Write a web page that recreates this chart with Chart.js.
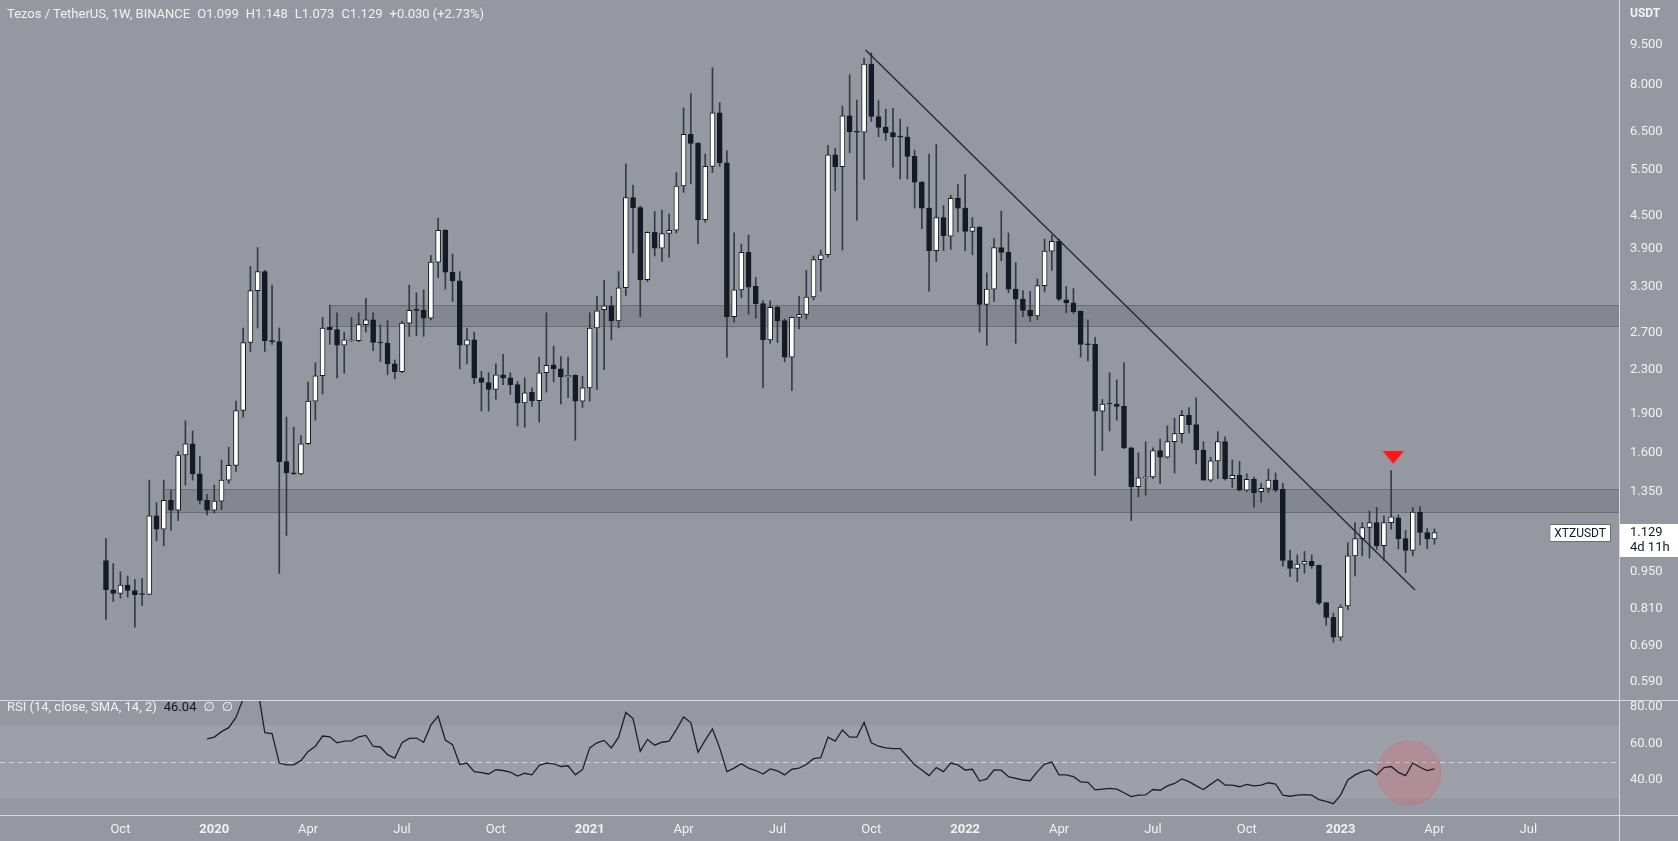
<!DOCTYPE html>
<html>
<head>
<meta charset="utf-8">
<title>XTZUSDT 1W</title>
<script src="https://cdnjs.cloudflare.com/ajax/libs/Chart.js/4.4.1/chart.umd.js"></script>
<style>
  html, body { margin: 0; padding: 0; background: #9598a1; overflow: hidden; }
  #wrap { position: relative; width: 1678px; height: 841px; font-family: Roboto, "DejaVu Sans", sans-serif; color: #f0f2f6; }
  canvas { position: absolute; left: 0; }
  #price { top: 0; }
  #rsi { top: 701px; }
  .txt { position: absolute; font-size: 13px; line-height: 16px; white-space: pre; }
  .txt span { margin-left: 7px; }
  .dark { color: #131722; }
  .vline { position: absolute; left: 1619px; top: 0; width: 1px; height: 841px; background: #d6d9e0; }
  .hline { position: absolute; left: 0; width: 1678px; height: 1px; background: #d6d9e0; }
</style>
</head>
<body>
<div id="wrap">
  <canvas id="price" width="1678" height="700"></canvas>
  <canvas id="rsi" width="1678" height="140"></canvas>
  <div class="hline" style="top:700px"></div>
  <div class="hline" style="top:815px"></div>
  <div class="vline"></div>
  <div class="txt" style="left:7px;top:6px">Tezos / TetherUS, 1W, BINANCE<span>O1.099</span><span>H1.148</span><span>L1.073</span><span>C1.129</span><span>+0.030 (+2.73%)</span></div>
  <div class="txt" style="left:1630px;top:5px;font-size:12px;font-weight:bold">USDT</div>
  <div class="txt" style="left:7px;top:699px">RSI (14, close, SMA, 14, 2)<span class="dark">46.04</span><span>∅</span><span>∅</span></div>
</div>
<script>
// weekly candles, Sep 23 2019 .. Apr 3 2023 (index 0 = first week)
const OPEN = [
  1.00, 0.88, 0.866, 0.898, 0.877, 0.864, 0.862, 1.215, 1.147, 1.30,
  1.245, 1.585, 1.665, 1.46, 1.30, 1.245, 1.296, 1.42, 1.515, 1.925,
  2.59, 3.25, 3.53, 2.61, 2.60, 1.54, 1.465, 1.46, 1.665, 2.005,
  2.24, 2.77, 2.74, 2.56, 2.61, 2.61, 2.80, 2.86, 2.59, 2.585,
  2.36, 2.28, 2.82, 2.99, 2.98, 2.88, 3.68, 4.23, 3.52, 3.39,
  2.56, 2.62, 2.22, 2.175, 2.11, 2.25, 2.22, 2.155, 1.99, 2.085,
  2.01, 2.27, 2.35, 2.31, 2.23, 2.245, 2.005, 2.125, 2.76, 2.99,
  3.04, 2.845, 3.29, 4.88, 4.67, 3.41, 4.19, 3.91, 4.17, 4.23,
  5.13, 6.43, 6.18, 4.43, 5.59, 7.06, 5.68, 2.90, 3.26, 3.84,
  3.31, 3.07, 2.62, 3.02, 2.85, 2.43, 2.89, 2.93, 3.16, 3.72,
  3.80, 5.88, 5.58, 6.97, 6.50, 6.49, 8.74, 6.95, 6.64, 6.48,
  6.36, 6.35, 5.84, 5.22, 4.66, 3.87, 4.47, 4.12, 4.86, 4.66,
  4.21, 4.29, 3.06, 3.27, 3.92, 3.84, 3.27, 3.13, 2.98, 2.91,
  3.32, 3.86, 4.03, 3.12, 3.08, 2.97, 2.575, 2.57, 1.92, 1.985,
  1.98, 1.96, 1.635, 1.38, 1.435, 1.44, 1.615, 1.57, 1.68, 1.74,
  1.885, 1.81, 1.62, 1.42, 1.545, 1.68, 1.43, 1.45, 1.36, 1.425,
  1.35, 1.37, 1.42, 1.365, 1.00, 0.966, 0.984, 0.996, 0.98, 0.832,
  0.78, 0.715, 0.82, 1.02, 1.10, 1.155, 1.18, 1.067, 1.18, 1.205,
  1.10, 1.045, 1.235, 1.13, 1.099
];
const HIGH = [
  1.10, 0.986, 0.952, 0.934, 0.921, 0.924, 1.42, 1.287, 1.42, 1.36,
  1.61, 1.84, 1.76, 1.575, 1.335, 1.39, 1.55, 1.64, 2.005, 2.76,
  3.61, 3.92, 3.55, 3.33, 2.76, 1.87, 1.79, 1.725, 2.18, 2.37,
  2.89, 3.05, 2.95, 2.71, 2.89, 2.95, 3.14, 2.95, 2.80, 2.85,
  2.40, 2.84, 3.33, 3.22, 3.26, 3.79, 4.46, 4.24, 3.81, 3.53,
  2.76, 2.71, 2.285, 2.27, 2.36, 2.46, 2.27, 2.185, 2.22, 2.125,
  2.43, 2.95, 2.55, 2.435, 2.43, 2.25, 2.235, 2.95, 3.17, 3.40,
  3.17, 3.53, 5.65, 5.15, 4.70, 4.20, 4.59, 4.62, 4.54, 5.44,
  7.22, 7.68, 6.20, 5.90, 8.60, 7.38, 5.98, 4.18, 3.98, 4.14,
  3.44, 3.11, 3.11, 3.04, 2.87, 2.895, 3.17, 3.55, 3.78, 3.88,
  6.13, 6.05, 7.28, 8.34, 7.47, 8.96, 9.18, 7.45, 7.18, 7.20,
  6.87, 6.64, 6.00, 5.23, 5.90, 6.15, 4.71, 4.93, 5.17, 5.40,
  4.47, 4.30, 3.51, 4.08, 4.60, 4.18, 3.67, 3.25, 3.24, 3.42,
  4.07, 4.14, 4.07, 3.31, 3.28, 2.97, 2.86, 2.65, 2.02, 2.27,
  2.20, 2.37, 1.64, 1.60, 1.68, 1.635, 1.70, 1.80, 1.86, 1.925,
  1.95, 2.035, 1.68, 1.57, 1.755, 1.715, 1.55, 1.54, 1.46, 1.44,
  1.40, 1.49, 1.465, 1.40, 1.045, 1.025, 1.04, 1.025, 0.98, 0.832,
  0.795, 0.824, 1.08, 1.18, 1.18, 1.24, 1.26, 1.215, 1.48, 1.22,
  1.14, 1.26, 1.265, 1.15, 1.148
];
const LOW = [
  0.773, 0.836, 0.848, 0.852, 0.747, 0.822, 0.862, 1.09, 1.066, 1.14,
  1.19, 1.39, 1.42, 1.28, 1.22, 1.23, 1.25, 1.40, 1.475, 1.87,
  2.49, 2.76, 2.49, 2.57, 0.945, 1.115, 1.455, 1.455, 1.66, 1.845,
  2.07, 2.57, 2.22, 2.265, 2.60, 2.60, 2.71, 2.50, 2.385, 2.25,
  2.21, 2.27, 2.66, 2.67, 2.66, 2.86, 3.44, 3.27, 3.10, 2.31,
  2.36, 2.165, 1.92, 1.92, 2.02, 2.155, 2.065, 1.80, 1.79, 1.96,
  1.83, 2.085, 2.18, 1.98, 2.035, 1.69, 1.95, 2.005, 2.11, 2.30,
  2.62, 2.76, 3.18, 3.83, 2.90, 3.38, 3.78, 3.69, 3.76, 4.18,
  4.99, 5.18, 3.99, 4.38, 5.44, 5.59, 2.43, 2.83, 3.15, 2.93,
  2.88, 2.125, 2.58, 2.59, 2.38, 2.10, 2.75, 2.87, 3.12, 3.24,
  3.76, 5.02, 3.88, 5.93, 4.42, 5.28, 6.80, 6.36, 6.26, 5.57,
  5.29, 5.29, 4.66, 4.26, 3.24, 3.69, 3.87, 3.89, 4.20, 3.87,
  3.80, 2.71, 2.56, 3.10, 3.70, 3.22, 2.58, 2.90, 2.84, 2.86,
  3.23, 3.55, 3.11, 2.95, 2.94, 2.43, 2.39, 1.45, 1.615, 1.76,
  1.845, 1.63, 1.19, 1.32, 1.33, 1.43, 1.40, 1.565, 1.465, 1.67,
  1.745, 1.525, 1.42, 1.41, 1.43, 1.42, 1.375, 1.355, 1.35, 1.26,
  1.29, 1.345, 1.35, 0.975, 0.932, 0.912, 0.946, 0.966, 0.824, 0.754,
  0.70, 0.705, 0.806, 0.935, 1.02, 1.01, 1.05, 1.00, 1.147, 1.052,
  0.948, 1.02, 1.07, 1.053, 1.073
];
const CLOSE = [
  0.88, 0.866, 0.898, 0.877, 0.861, 0.862, 1.215, 1.147, 1.30, 1.245,
  1.585, 1.665, 1.46, 1.30, 1.245, 1.296, 1.42, 1.515, 1.925, 2.59,
  3.25, 3.53, 2.61, 2.60, 1.54, 1.465, 1.46, 1.665, 2.005, 2.24,
  2.76, 2.74, 2.56, 2.62, 2.62, 2.80, 2.86, 2.59, 2.585, 2.36,
  2.28, 2.82, 2.98, 2.98, 2.88, 3.68, 4.23, 3.52, 3.39, 2.56,
  2.62, 2.22, 2.175, 2.11, 2.25, 2.22, 2.155, 1.99, 2.08, 2.01,
  2.27, 2.345, 2.31, 2.23, 2.245, 2.005, 2.125, 2.76, 2.975, 3.04,
  2.845, 3.29, 4.88, 4.67, 3.41, 4.19, 3.91, 4.17, 4.23, 5.13,
  6.43, 6.18, 4.43, 5.59, 7.06, 5.68, 2.90, 3.26, 3.84, 3.30,
  3.07, 2.62, 3.02, 2.845, 2.43, 2.89, 2.93, 3.16, 3.72, 3.80,
  5.88, 5.58, 6.97, 6.50, 6.49, 8.74, 6.95, 6.63, 6.48, 6.36,
  6.35, 5.84, 5.22, 4.66, 3.87, 4.47, 4.13, 4.86, 4.66, 4.21,
  4.29, 3.06, 3.27, 3.92, 3.84, 3.27, 3.13, 2.98, 2.91, 3.32,
  3.86, 4.03, 3.13, 3.08, 2.965, 2.57, 2.565, 1.92, 1.98, 1.98,
  1.96, 1.635, 1.38, 1.435, 1.44, 1.615, 1.57, 1.68, 1.74, 1.885,
  1.81, 1.62, 1.42, 1.545, 1.68, 1.43, 1.45, 1.36, 1.425, 1.345,
  1.37, 1.42, 1.36, 1.00, 0.966, 0.984, 0.996, 0.978, 0.83, 0.78,
  0.715, 0.816, 1.02, 1.10, 1.155, 1.18, 1.067, 1.18, 1.21, 1.10,
  1.045, 1.235, 1.13, 1.099, 1.129
];

// RSI(14) starts at week index 14
const RSI_START = 14;
const RSI = [
  62.6, 63.5, 66.5, 68.7, 74.3, 84.5, 89.0, 90.5, 65.9, 65.4,
  49.3, 48.3, 48.3, 50.6, 55.7, 58.5, 64.1, 63.7, 60.4, 61.3,
  61.5, 63.7, 64.4, 58.5, 58.1, 53.9, 52.0, 60.4, 62.8, 63.0,
  60.7, 70.2, 75.0, 61.9, 59.4, 48.5, 49.2, 44.6, 44.1, 43.3,
  45.6, 45.2, 44.3, 42.2, 43.7, 42.8, 48.0, 49.3, 48.9, 47.4,
  47.8, 42.8, 45.7, 57.6, 60.4, 61.7, 57.6, 63.5, 77.0, 73.7,
  55.7, 62.2, 59.1, 60.7, 61.3, 67.6, 74.6, 71.5, 55.2, 61.9,
  68.0, 57.6, 44.6, 46.5, 48.9, 46.5, 45.2, 43.3, 46.1, 45.0,
  42.8, 45.9, 46.5, 48.5, 51.7, 52.2, 63.5, 61.3, 67.4, 63.5,
  63.5, 71.5, 60.4, 58.5, 57.6, 57.2, 57.2, 52.9, 48.3, 45.5,
  42.4, 46.8, 44.6, 49.3, 48.3, 45.5, 45.9, 39.4, 40.6, 45.5,
  45.4, 41.8, 40.9, 40.0, 39.6, 44.6, 48.7, 49.8, 42.8, 42.8,
  41.8, 39.0, 38.7, 34.6, 35.0, 35.4, 35.0, 33.0, 30.9, 31.7,
  31.8, 34.8, 34.4, 36.8, 38.1, 40.6, 39.1, 36.8, 34.8, 37.6,
  40.4, 37.2, 37.2, 36.3, 37.6, 36.8, 37.2, 38.5, 37.8, 31.7,
  31.1, 31.7, 32.0, 31.7, 29.3, 28.3, 27.0, 31.7, 40.0, 42.8,
  44.6, 45.5, 42.8, 46.8, 47.4, 44.2, 42.4, 49.3, 47.0, 45.2,
  46.04
];

const PRICE_TICKS = [9.5, 8.0, 6.5, 5.5, 4.5, 3.9, 3.3, 2.7, 2.3, 1.9, 1.6, 1.35, 0.95, 0.81, 0.69, 0.59];
const RSI_TICKS = [80, 60, 40];
// first weekly bar of each labelled month
const TICK_POS = [2, 15, 28, 41, 54, 67, 80, 93, 106, 119, 132, 145, 158, 171, 184, 197];
const TICK_LABELS = ['Oct', '2020', 'Apr', 'Jul', 'Oct', '2021', 'Apr', 'Jul', 'Oct', '2022', 'Apr', 'Jul', 'Oct', '2023', 'Apr', 'Jul'];

// support / resistance zones and trendline
const ZONE_START = [31.1, 8.2];
const ZONE_LOW = [2.77, 1.232];
const ZONE_HIGH = [3.05, 1.364];
const TREND_X = [105.2, 181.3];
const TREND_Y = [9.29, 0.879];
const MARK = { x: 178.3, y: 1.57 };
const RSI_MARK = { x: 180.5, y: 43.9 };
const RSI_BAND = [30, 70];
const RSI_MID = 50;
const SYMBOL = 'XTZUSDT';
const COUNTDOWN = '4d 11h';

const X_MIN = -14.68, X_MAX = 209.56;
const AXIS_W = 59;
const TXT = '#f0f2f6';
const FONT = 'Roboto, "DejaVu Sans", sans-serif';

Chart.defaults.font.family = FONT;
Chart.defaults.color = TXT;

const bodies = OPEN.map((o, i) => ({ x: i, y: [o, CLOSE[i]] }));
const wicks = LOW.map((l, i) => ({ x: i, y: [l, HIGH[i]] }));
const bodyColors = OPEN.map((o, i) => CLOSE[i] >= o ? '#ffffff' : '#161a25');
const rsiPoints = RSI.map((v, i) => ({ x: RSI_START + i, y: v }));

function makeTriangle() {
    const c = document.createElement('canvas');
    c.width = 22; c.height = 13;
    const g = c.getContext('2d');
    g.fillStyle = '#ff1616';
    g.beginPath();
    g.moveTo(0, 0); g.lineTo(22, 0); g.lineTo(11, 13);
    g.closePath();
    g.fill();
    return c;
}

function fixWidth(s) {
    s.width = AXIS_W;
    s.paddingTop = 0;
    s.paddingBottom = 0;
}

const zonesPlugin = {
    id: 'zones',
    beforeDatasetsDraw(chart) {
        const { ctx, chartArea: a, scales: { x, y } } = chart;
        ctx.save();
        for (let i = 0; i < ZONE_LOW.length; i++) {
            const left = x.getPixelForValue(ZONE_START[i]);
            const top = Math.round(y.getPixelForValue(ZONE_HIGH[i]));
            const bot = Math.round(y.getPixelForValue(ZONE_LOW[i]));
            ctx.fillStyle = 'rgba(40,42,50,0.15)';
            ctx.fillRect(left, top, a.right - left, bot - top);
            ctx.strokeStyle = 'rgba(40,42,50,0.28)';
            ctx.lineWidth = 1;
            ctx.beginPath();
            ctx.moveTo(left, top + 0.5); ctx.lineTo(a.right, top + 0.5);
            ctx.moveTo(left, bot - 0.5); ctx.lineTo(a.right, bot - 0.5);
            ctx.stroke();
        }
        ctx.restore();
    }
};

const priceTag = {
    id: 'priceTag',
    afterDraw(chart) {
        const { ctx, chartArea: a, scales: { y } } = chart;
        const last = CLOSE[CLOSE.length - 1];
        const py = Math.round(y.getPixelForValue(last));
        ctx.save();
        ctx.font = '12px ' + FONT;
        ctx.textBaseline = 'middle';
        const w = ctx.measureText(SYMBOL).width + 10;
        const bx = a.right - 8 - w;
        ctx.fillStyle = '#ffffff';
        ctx.fillRect(bx, py - 9, w, 18);
        ctx.strokeStyle = '#6a6d78';
        ctx.strokeRect(bx + 0.5, py - 8.5, w - 1, 17);
        ctx.fillStyle = '#131722';
        ctx.fillText(SYMBOL, bx + 5, py + 1);
        ctx.fillStyle = '#ffffff';
        ctx.fillRect(a.right + 1, py - 9, AXIS_W - 1, 33);
        ctx.fillStyle = '#131722';
        ctx.font = '13px ' + FONT;
        ctx.fillText(last.toFixed(3), a.right + 11, py);
        ctx.fillText(COUNTDOWN, a.right + 11, py + 15);
        ctx.restore();
    }
};

const rsiGuides = {
    id: 'rsiGuides',
    beforeDatasetsDraw(chart) {
        const { ctx, chartArea: a, scales: { y } } = chart;
        const t = y.getPixelForValue(RSI_BAND[1]);
        const b = y.getPixelForValue(RSI_BAND[0]);
        const m = Math.round(y.getPixelForValue(RSI_MID)) + 0.5;
        ctx.save();
        ctx.fillStyle = 'rgba(255,255,255,0.08)';
        ctx.fillRect(a.left, t, a.right - a.left, b - t);
        ctx.setLineDash([5, 4]);
        ctx.strokeStyle = 'rgba(228,231,238,0.75)';
        ctx.lineWidth = 1;
        ctx.beginPath();
        ctx.moveTo(a.left, m); ctx.lineTo(a.right, m);
        ctx.stroke();
        ctx.restore();
    }
};

new Chart(document.getElementById('price'), {
    type: 'bar',
    data: {
        datasets: [
            { label: 'wick', data: wicks, backgroundColor: '#363a45', barThickness: 1, grouped: false, order: 3 },
            { label: 'body', data: bodies, backgroundColor: bodyColors, borderColor: '#161a25', borderWidth: 1,
              borderSkipped: false, barThickness: 5, minBarLength: 1, grouped: false, order: 2 },
            { type: 'line', label: 'trend', data: TREND_X.map((x, i) => ({ x, y: TREND_Y[i] })),
              borderColor: '#23262f', borderWidth: 1.3, pointRadius: 0, order: 1 },
            { type: 'scatter', label: 'mark', data: [MARK], pointStyle: makeTriangle(), order: 0 }
        ]
    },
    options: {
        responsive: false,
        animation: false,
        layout: { padding: 0, autoPadding: false },
        plugins: { legend: { display: false }, tooltip: { enabled: false } },
        scales: {
            x: { type: 'linear', min: X_MIN, max: X_MAX, offset: false, bounds: 'data', display: false },
            y: {
                type: 'logarithmic', position: 'right', min: 0.5437, max: 11.56, bounds: 'data',
                grid: { display: false, drawTicks: false }, border: { display: false },
                afterFit: fixWidth,
                afterBuildTicks(s) { s.ticks = PRICE_TICKS.map(v => ({ value: v })); },
                ticks: { autoSkip: false, padding: 11, color: TXT, font: { size: 13 }, callback: v => Number(v).toFixed(3) }
            }
        }
    },
    plugins: [zonesPlugin, priceTag]
});

new Chart(document.getElementById('rsi'), {
    type: 'line',
    data: {
        datasets: [
            { label: 'RSI', data: rsiPoints, borderColor: '#1d2029', borderWidth: 1.3, pointRadius: 0, tension: 0, order: 1 },
            { type: 'scatter', label: 'circle', data: [RSI_MARK], pointRadius: 32,
              backgroundColor: 'rgba(222,96,108,0.28)', borderColor: 'rgba(222,96,108,0.35)', borderWidth: 1, order: 2 }
        ]
    },
    options: {
        responsive: false,
        animation: false,
        layout: { padding: 0, autoPadding: false },
        plugins: { legend: { display: false }, tooltip: { enabled: false } },
        scales: {
            x: {
                type: 'linear', min: X_MIN, max: X_MAX, bounds: 'data', offset: false,
                grid: { display: false, drawTicks: false }, border: { display: false },
                afterFit(s) { s.height = 26; s.paddingLeft = 0; s.paddingRight = 0; },
                afterBuildTicks(s) { s.ticks = TICK_POS.map(v => ({ value: v })); },
                ticks: {
                    autoSkip: false, maxRotation: 0, padding: 7, color: TXT,
                    font: c => ({ size: 13, weight: /^\d{4}$/.test(TICK_LABELS[c.index]) ? 'bold' : 'normal' }),
                    callback: (v, i) => TICK_LABELS[i]
                }
            },
            y: {
                type: 'linear', position: 'right', min: 20.82, max: 83.3, bounds: 'data',
                grid: { display: false, drawTicks: false }, border: { display: false },
                afterFit: fixWidth,
                afterBuildTicks(s) { s.ticks = RSI_TICKS.map(v => ({ value: v })); },
                ticks: { autoSkip: false, padding: 11, color: TXT, font: { size: 13 }, callback: v => Number(v).toFixed(2) }
            }
        }
    },
    plugins: [rsiGuides]
});
</script>
</body>
</html>
